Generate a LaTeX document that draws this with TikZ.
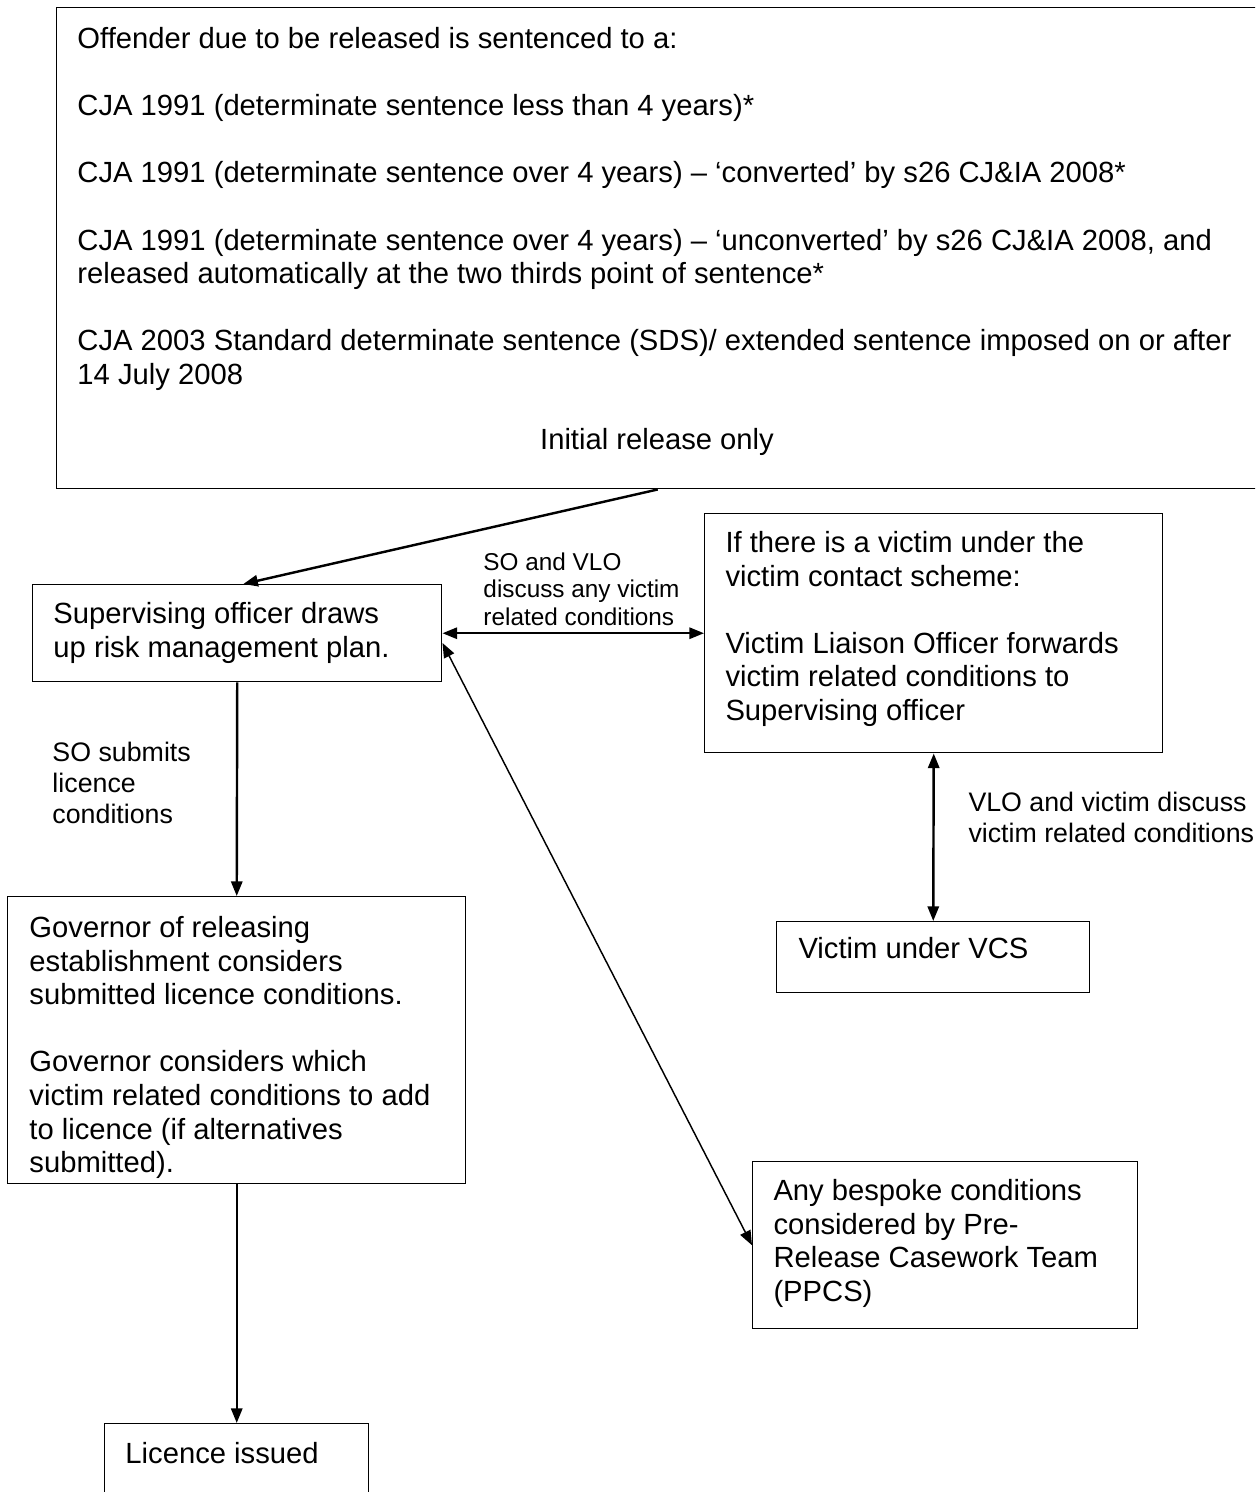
\documentclass[tikz,border=0pt]{standalone}
\usepackage{fontspec}
\setmainfont{Liberation Sans}
\usetikzlibrary{arrows.meta, positioning}

\newcommand\pix{0.411pt}

\begin{document}
\begin{tikzpicture}[
    x=0.411pt, y=-0.411pt,
    box/.style={draw, line width=0.6pt, inner sep=0pt, anchor=north west},
    txt/.style={inner sep=0pt, anchor=north west, align=left, font=\fontsize{12}{13.8}\selectfont},
    lbl/.style={txt, font=\fontsize{11}{12.6}\selectfont},
    small lbl/.style={txt, font=\fontsize{10}{11.3}\selectfont},
    heavy/.style={line width=1pt, -{Triangle[length=6pt, width=4.6pt]}},
    heavy both/.style={line width=1pt, {Triangle[length=6pt, width=4.6pt]}-{Triangle[length=6pt, width=4.6pt]}},
    light both/.style={line width=0.6pt, {Triangle[length=6pt, width=4.6pt]}-{Triangle[length=6pt, width=4.6pt]}}
  ]

  \clip (0,0) rectangle (1255,1492);

  % boxes
  \node [box, minimum width=1202*\pix, minimum height=481*\pix] (offender) at (56,7) {};
  \node [box, minimum width=409*\pix, minimum height=97*\pix] (supervisor) at (32,584) {};
  \node [box, minimum width=458*\pix, minimum height=239*\pix] (liaison) at (704,513) {};
  \node [box, minimum width=313*\pix, minimum height=71*\pix] (victim) at (776,921) {};
  \node [box, minimum width=458*\pix, minimum height=287*\pix] (governor) at (7,896) {};
  \node [box, minimum width=385*\pix, minimum height=167*\pix] (casework) at (752,1161) {};
  \node [box, minimum width=264*\pix, minimum height=100*\pix] (licence) at (104,1423) {};

  % box texts
  \node [txt] (offender-txt) at (77,27) {Offender due to be released is sentenced to a:\\[13.8pt]
    CJA 1991 (determinate sentence less than 4 years)*\\[13.8pt]
    CJA 1991 (determinate sentence over 4 years) – ‘converted’ by s26 CJ\&IA 2008*\\[13.8pt]
    CJA 1991 (determinate sentence over 4 years) – ‘unconverted’ by s26 CJ\&IA 2008, and\\
    released automatically at the two thirds point of sentence*\\[13.8pt]
    CJA 2003 Standard determinate sentence (SDS)/ extended sentence imposed on or after\\
    14 July 2008};
  \node [txt, anchor=center] (release-txt) at (657,442) {Initial release only};
  \node [txt] (supervisor-txt) at (53,602) {Supervising officer draws\\up risk management plan.};
  \node [txt] (liaison-txt) at (725,531) {If there is a victim under the\\victim contact scheme:\\[13.8pt]
    Victim Liaison Officer forwards\\victim related conditions to\\Supervising officer};
  \node [txt] (victim-txt) at (798,937) {Victim under VCS};
  \node [txt] (governor-txt) at (29,916) {Governor of releasing\\establishment considers\\submitted licence conditions.\\[13.8pt]
    Governor considers which\\victim related conditions to add\\to licence (if alternatives\\submitted).};
  \node [txt] (casework-txt) at (773,1179) {Any bespoke conditions\\considered by Pre-\\Release Casework Team\\(PPCS)};
  \node [txt] (licence-txt) at (125,1442) {Licence issued};

  % connector labels
  \node [small lbl] (discuss-lbl) at (483,552) {SO and VLO\\discuss any victim\\related conditions};
  \node [lbl] (submit-lbl) at (52,742) {SO submits\\licence\\conditions};
  \node [lbl] (contact-lbl) at (968,792) {VLO and victim discuss\\victim related conditions};

  % connectors
  \draw [heavy] (offender.south) -- ([xshift=2.5pt]supervisor.north);
  \draw [heavy both] (supervisor.east) -- (liaison.west);
  \draw [heavy] (supervisor.south) -- (governor.north);
  \draw [light both] ([yshift=-4pt]supervisor.east) -- (casework.west);
  \draw [heavy both] (liaison.south) -- (victim.north);
  \draw [heavy] (governor.south) -- (licence.north);

\end{tikzpicture}
\end{document}
